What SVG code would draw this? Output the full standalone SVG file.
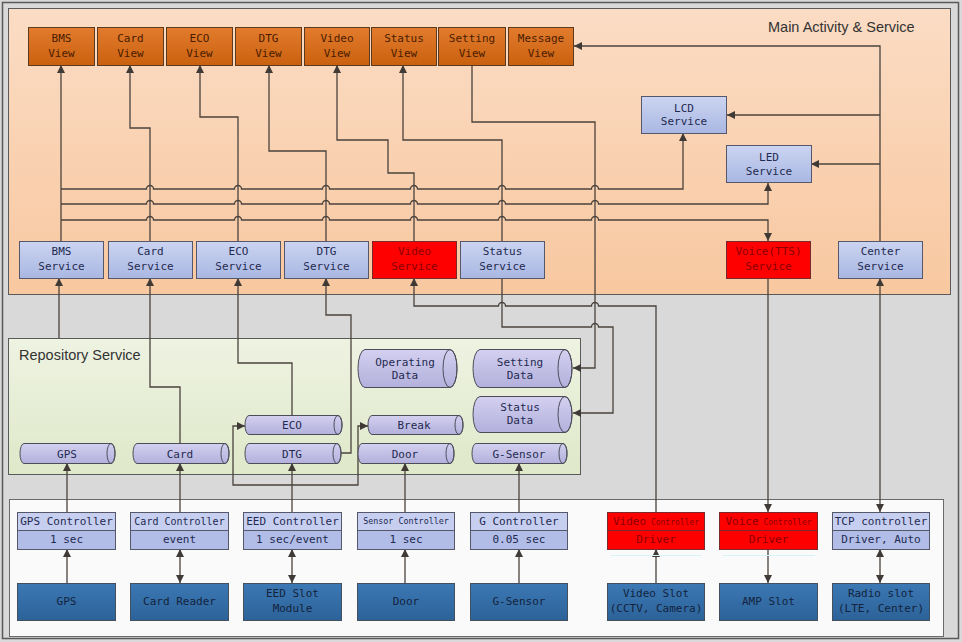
<svg xmlns="http://www.w3.org/2000/svg" width="962" height="642" viewBox="0 0 962 642">
<defs>
<linearGradient id="gOr" x1="0" y1="0" x2="0" y2="1"><stop offset="0" stop-color="#fbdcc4"/><stop offset="1" stop-color="#f8c8a0"/></linearGradient>
<linearGradient id="gRep" x1="0" y1="0" x2="0" y2="1"><stop offset="0" stop-color="#eef3e2"/><stop offset="1" stop-color="#dfe8c9"/></linearGradient>
<linearGradient id="gView" x1="0" y1="0" x2="0" y2="1"><stop offset="0" stop-color="#e27b2d"/><stop offset="1" stop-color="#c9610f"/></linearGradient>
<linearGradient id="gSvc" x1="0" y1="0" x2="0" y2="1"><stop offset="0" stop-color="#cbd4f1"/><stop offset="1" stop-color="#a9b7e2"/></linearGradient>
<linearGradient id="gCyl" x1="0" y1="0" x2="0" y2="1"><stop offset="0" stop-color="#d3d0f0"/><stop offset="1" stop-color="#b3b0dc"/></linearGradient>
<linearGradient id="gDev" x1="0" y1="0" x2="0" y2="1"><stop offset="0" stop-color="#3c78b4"/><stop offset="1" stop-color="#2c6298"/></linearGradient>
<marker id="ar" viewBox="0 0 10 10" refX="10" refY="5" markerWidth="8" markerHeight="8" markerUnits="userSpaceOnUse" orient="auto-start-reverse"><path d="M0,0 L10,5 L0,10 z" fill="#3f3a36"/></marker>
<style>
.t{font-family:"DejaVu Sans Mono","Liberation Mono",monospace;font-size:11px;text-anchor:middle;fill:#1f2a50}
.tv{fill:#4a1c00}
.tr{fill:#8a0000}
.td{fill:#13233d}
.title{font-family:"Liberation Sans",Arial,sans-serif;font-size:14.5px;fill:#333}
.view{fill:url(#gView);stroke:#5b3a20;stroke-width:1}
.svc{fill:url(#gSvc);stroke:#55586a;stroke-width:1}
.red{fill:#ff0000;stroke:#7a2a2a;stroke-width:1}
.cyl{fill:url(#gCyl);stroke:#4d4d5a;stroke-width:1}
.cap{fill:none;stroke:#4d4d5a;stroke-width:1}
.dev{fill:url(#gDev);stroke:#44505e;stroke-width:1}
.ch{fill:#c7cff1;stroke:#55586a;stroke-width:1}
.cb{fill:#b1bde7;stroke:#55586a;stroke-width:1}
.c{fill:none;stroke:#4b433d;stroke-width:1.3}
</style>
</defs>

<!-- background & panels -->
<rect x="0" y="0" width="962" height="642" fill="#d9d9d9"/>
<rect x="2.5" y="2.5" width="956" height="636" fill="none" stroke="#5a5a5a" stroke-width="1.5"/>
<g id="panel-main">
<rect x="8.5" y="8.5" width="942" height="286" fill="url(#gOr)" stroke="#5a5a5a" stroke-width="1"/>
<text class="title" x="768" y="32">Main Activity &amp; Service</text>
</g>
<g id="panel-repo">
<rect x="8.5" y="338.5" width="572" height="136" fill="url(#gRep)" stroke="#5a5a5a" stroke-width="1"/>
<text class="title" x="19" y="360">Repository Service</text>
</g>
<g id="panel-hw">
<rect x="9.5" y="499.5" width="934" height="137" fill="#fafafa" stroke="#6a6a6a" stroke-width="1"/>
</g>

<!-- connectors -->
<g id="connectors">
<path class="c" marker-end="url(#ar)" d="M61,241 L61,65"/>
<path class="c" marker-end="url(#ar)" d="M61,189 L146.5,189 A3.5,3.5 0 0 1 153.5,189 L234.5,189 A3.5,3.5 0 0 1 241.5,189 L322.5,189 A3.5,3.5 0 0 1 329.5,189 L410.5,189 A3.5,3.5 0 0 1 417.5,189 L498.5,189 A3.5,3.5 0 0 1 505.5,189 L591.5,189 A3.5,3.5 0 0 1 598.5,189 L683,189 L683,133"/>
<path class="c" marker-end="url(#ar)" d="M61,204 L146.5,204 A3.5,3.5 0 0 1 153.5,204 L234.5,204 A3.5,3.5 0 0 1 241.5,204 L322.5,204 A3.5,3.5 0 0 1 329.5,204 L410.5,204 A3.5,3.5 0 0 1 417.5,204 L498.5,204 A3.5,3.5 0 0 1 505.5,204 L591.5,204 A3.5,3.5 0 0 1 598.5,204 L768,204 L768,183"/>
<path class="c" marker-end="url(#ar)" d="M61,220 L146.5,220 A3.5,3.5 0 0 1 153.5,220 L234.5,220 A3.5,3.5 0 0 1 241.5,220 L322.5,220 A3.5,3.5 0 0 1 329.5,220 L410.5,220 A3.5,3.5 0 0 1 417.5,220 L498.5,220 A3.5,3.5 0 0 1 505.5,220 L591.5,220 A3.5,3.5 0 0 1 598.5,220 L768,220 L768,241"/>
<path class="c" marker-end="url(#ar)" d="M150,241 L150,128 L130,128 L130,65"/>
<path class="c" marker-end="url(#ar)" d="M238,241 L238,117 L200,117 L200,65"/>
<path class="c" marker-end="url(#ar)" d="M326,241 L326,151 L269,151 L269,65"/>
<path class="c" marker-end="url(#ar)" d="M414,241 L414,173 L388,173 L388,140 L337,140 L337,65"/>
<path class="c" marker-end="url(#ar)" d="M502,241 L502,140 L403,140 L403,65"/>
<path class="c" marker-end="url(#ar)" d="M472,65 L472,122 L595,122 L595,368 L573,368"/>
<path class="c" marker-end="url(#ar)" d="M880,241 L880,46 L574,46"/>
<path class="c" marker-end="url(#ar)" d="M880,115 L727,115"/>
<path class="c" marker-end="url(#ar)" d="M880,164 L811,164"/>
<path class="c" marker-start="url(#ar)" marker-end="url(#ar)" d="M880,278 L880,512"/>
<path class="c" marker-end="url(#ar)" d="M768,278 L768,512"/>
<path class="c" marker-start="url(#ar)" d="M414,278 L414,306 L498.5,306 A3.5,3.5 0 0 1 505.5,306 L591.5,306 A3.5,3.5 0 0 1 598.5,306 L656,306 L656,512"/>
<path class="c" marker-end="url(#ar)" d="M502,278 L502,327 L591.5,327 A3.5,3.5 0 0 1 598.5,327 L613,327 L613,413 L573,413"/>
<path class="c" marker-end="url(#ar)" d="M59,338 L59,278"/>
<path class="c" marker-end="url(#ar)" d="M180,443 L180,387 L150,387 L150,278"/>
<path class="c" marker-end="url(#ar)" d="M292,415 L292,363 L238,363 L238,278"/>
<path class="c" marker-end="url(#ar)" d="M341,453 L351,453 L351,315 L326,315 L326,278"/>
<path class="c" marker-end="url(#ar)" d="M292,512 L292,463"/>
<path class="c" marker-end="url(#ar)" d="M292,485 L233,485 L233,426 L245,426"/>
<path class="c" marker-end="url(#ar)" d="M292,485 L358,485 L358,426 L368,426"/>
<path class="c" marker-end="url(#ar)" d="M67,512 L67,463"/>
<path class="c" marker-end="url(#ar)" d="M180,512 L180,463"/>
<path class="c" marker-end="url(#ar)" d="M405,512 L405,463"/>
<path class="c" marker-end="url(#ar)" d="M519,512 L519,463"/>
<path class="c" marker-end="url(#ar)" d="M67,583 L67,549"/>
<path class="c" marker-start="url(#ar)" marker-end="url(#ar)" d="M180,583 L180,549"/>
<path class="c" marker-start="url(#ar)" marker-end="url(#ar)" d="M292,583 L292,549"/>
<path class="c" marker-end="url(#ar)" d="M405,583 L405,549"/>
<path class="c" marker-end="url(#ar)" d="M519,583 L519,549"/>
<path class="c" marker-end="url(#ar)" d="M656,583 L656,549"/>
<path class="c" marker-end="url(#ar)" d="M768,549 L768,583"/>
<path class="c" marker-start="url(#ar)" marker-end="url(#ar)" d="M880,583 L880,549"/>
</g>

<!-- Views -->
<g id="bms-view"><rect class="view" x="28.5" y="27.5" width="66" height="38"/><text class="t tv" x="61.5" y="42">BMS</text><text class="t tv" x="61.5" y="57">View</text></g>
<g id="card-view"><rect class="view" x="97.5" y="27.5" width="66" height="38"/><text class="t tv" x="130.5" y="42">Card</text><text class="t tv" x="130.5" y="57">View</text></g>
<g id="eco-view"><rect class="view" x="166.5" y="27.5" width="66" height="38"/><text class="t tv" x="199.5" y="42">ECO</text><text class="t tv" x="199.5" y="57">View</text></g>
<g id="dtg-view"><rect class="view" x="235.5" y="27.5" width="66" height="38"/><text class="t tv" x="268.5" y="42">DTG</text><text class="t tv" x="268.5" y="57">View</text></g>
<g id="video-view"><rect class="view" x="304.5" y="27.5" width="65" height="38"/><text class="t tv" x="337" y="42">Video</text><text class="t tv" x="337" y="57">View</text></g>
<g id="status-view"><rect class="view" x="371.5" y="27.5" width="65" height="38"/><text class="t tv" x="404" y="42">Status</text><text class="t tv" x="404" y="57">View</text></g>
<g id="setting-view"><rect class="view" x="438.5" y="27.5" width="67" height="38"/><text class="t tv" x="472" y="42">Setting</text><text class="t tv" x="472" y="57">View</text></g>
<g id="message-view"><rect class="view" x="508.5" y="27.5" width="65" height="38"/><text class="t tv" x="541" y="42">Message</text><text class="t tv" x="541" y="57">View</text></g>

<!-- LCD / LED -->
<g id="lcd-service"><rect class="svc" x="641.5" y="96.5" width="85" height="37"/><text class="t" x="684" y="112">LCD</text><text class="t" x="684" y="125">Service</text></g>
<g id="led-service"><rect class="svc" x="726.5" y="145.5" width="85" height="37"/><text class="t" x="769" y="161">LED</text><text class="t" x="769" y="175">Service</text></g>

<!-- Services -->
<g id="bms-service"><rect class="svc" x="19.5" y="241.5" width="84" height="37"/><text class="t" x="61.5" y="255">BMS</text><text class="t" x="61.5" y="270">Service</text></g>
<g id="card-service"><rect class="svc" x="108.5" y="241.5" width="84" height="37"/><text class="t" x="150.5" y="255">Card</text><text class="t" x="150.5" y="270">Service</text></g>
<g id="eco-service"><rect class="svc" x="196.5" y="241.5" width="84" height="37"/><text class="t" x="238.5" y="255">ECO</text><text class="t" x="238.5" y="270">Service</text></g>
<g id="dtg-service"><rect class="svc" x="284.5" y="241.5" width="84" height="37"/><text class="t" x="326.5" y="255">DTG</text><text class="t" x="326.5" y="270">Service</text></g>
<g id="video-service"><rect class="red" x="372.5" y="241.5" width="84" height="37"/><text class="t tr" x="414.5" y="255">Video</text><text class="t tr" x="414.5" y="270">Service</text></g>
<g id="status-service"><rect class="svc" x="460.5" y="241.5" width="84" height="37"/><text class="t" x="502.5" y="255">Status</text><text class="t" x="502.5" y="270">Service</text></g>
<g id="voice-service"><rect class="red" x="726.5" y="241.5" width="84" height="37"/><text class="t tr" x="768.5" y="255">Voice(TTS)</text><text class="t tr" x="768.5" y="270">Service</text></g>
<g id="center-service"><rect class="svc" x="838.5" y="241.5" width="84" height="37"/><text class="t" x="880.5" y="255">Center</text><text class="t" x="880.5" y="270">Service</text></g>

<!-- Repository cylinders -->
<g id="operating-data"><path class="cyl" d="M365,349.5 L450,349.5 A7,19 0 0 1 450,387.5 L365,387.5 A7,19 0 0 1 365,349.5 Z"/><ellipse class="cap" cx="450" cy="368.5" rx="7" ry="19"/><text class="t" x="405" y="366">Operating</text><text class="t" x="405" y="379">Data</text></g>
<g id="setting-data"><path class="cyl" d="M480,349.5 L565,349.5 A7,19 0 0 1 565,387.5 L480,387.5 A7,19 0 0 1 480,349.5 Z"/><ellipse class="cap" cx="565" cy="368.5" rx="7" ry="19"/><text class="t" x="520" y="366">Setting</text><text class="t" x="520" y="379">Data</text></g>
<g id="status-data"><path class="cyl" d="M480,396.5 L565,396.5 A7,18 0 0 1 565,432.5 L480,432.5 A7,18 0 0 1 480,396.5 Z"/><ellipse class="cap" cx="565" cy="414.5" rx="7" ry="18"/><text class="t" x="520" y="411">Status</text><text class="t" x="520" y="424">Data</text></g>
<g id="eco-data"><path class="cyl" d="M249,415.5 L338,415.5 A4,9.5 0 0 1 338,434.5 L249,434.5 A4,9.5 0 0 1 249,415.5 Z"/><ellipse class="cap" cx="338" cy="425" rx="4" ry="9.5"/><text class="t" x="292" y="429">ECO</text></g>
<g id="break-data"><path class="cyl" d="M372,415.5 L459,415.5 A4,9.5 0 0 1 459,434.5 L372,434.5 A4,9.5 0 0 1 372,415.5 Z"/><ellipse class="cap" cx="459" cy="425" rx="4" ry="9.5"/><text class="t" x="414" y="429">Break</text></g>
<g id="gps-data"><path class="cyl" d="M24,443.5 L111,443.5 A4,10 0 0 1 111,463.5 L24,463.5 A4,10 0 0 1 24,443.5 Z"/><ellipse class="cap" cx="111" cy="453.5" rx="4" ry="10"/><text class="t" x="67" y="457.5">GPS</text></g>
<g id="card-data"><path class="cyl" d="M137,443.5 L225,443.5 A4,10 0 0 1 225,463.5 L137,463.5 A4,10 0 0 1 137,443.5 Z"/><ellipse class="cap" cx="225" cy="453.5" rx="4" ry="10"/><text class="t" x="180" y="457.5">Card</text></g>
<g id="dtg-data"><path class="cyl" d="M249,443.5 L337,443.5 A4,10 0 0 1 337,463.5 L249,463.5 A4,10 0 0 1 249,443.5 Z"/><ellipse class="cap" cx="337" cy="453.5" rx="4" ry="10"/><text class="t" x="292" y="457.5">DTG</text></g>
<g id="door-data"><path class="cyl" d="M362,443.5 L450,443.5 A4,10 0 0 1 450,463.5 L362,463.5 A4,10 0 0 1 362,443.5 Z"/><ellipse class="cap" cx="450" cy="453.5" rx="4" ry="10"/><text class="t" x="405" y="457.5">Door</text></g>
<g id="gsensor-data"><path class="cyl" d="M476,443.5 L563,443.5 A4,10 0 0 1 563,463.5 L476,463.5 A4,10 0 0 1 476,443.5 Z"/><ellipse class="cap" cx="563" cy="453.5" rx="4" ry="10"/><text class="t" x="519" y="457.5">G-Sensor</text></g>

<!-- Controllers -->
<g id="gps-controller"><rect class="ch" x="17.5" y="512.5" width="98" height="18"/><rect class="cb" x="17.5" y="530.5" width="98" height="19"/><text class="t" x="66.5" y="524.5">GPS Controller</text><text class="t" x="66.5" y="543">1 sec</text></g>
<g id="card-controller"><rect class="ch" x="130.5" y="512.5" width="98" height="18"/><rect class="cb" x="130.5" y="530.5" width="98" height="19"/><text class="t" x="179.5" y="524.5" style="font-size:10px">Card Controller</text><text class="t" x="179.5" y="543">event</text></g>
<g id="eed-controller"><rect class="ch" x="243.5" y="512.5" width="98" height="18"/><rect class="cb" x="243.5" y="530.5" width="98" height="19"/><text class="t" x="292.5" y="524.5">EED Controller</text><text class="t" x="292.5" y="543">1 sec/event</text></g>
<g id="sensor-controller"><rect class="ch" x="357.5" y="512.5" width="97" height="18"/><rect class="cb" x="357.5" y="530.5" width="97" height="19"/><text class="t" x="406" y="524" style="font-size:8.4px">Sensor Controller</text><text class="t" x="406" y="543">1 sec</text></g>
<g id="g-controller"><rect class="ch" x="470.5" y="512.5" width="97" height="18"/><rect class="cb" x="470.5" y="530.5" width="97" height="19"/><text class="t" x="519" y="524.5">G Controller</text><text class="t" x="519" y="543">0.05 sec</text></g>
<g id="video-controller"><rect class="red" x="607.5" y="512.5" width="97" height="18"/><rect class="red" x="607.5" y="530.5" width="97" height="19"/><line x1="610" y1="555.5" x2="702" y2="555.5" stroke="#d6f4f4" stroke-width="1"/><text class="t tr" x="656" y="524.5"><tspan>Video</tspan><tspan style="font-size:8px"> Controller</tspan></text><text class="t tr" x="656" y="543">Driver</text></g>
<g id="voice-controller"><rect class="red" x="719.5" y="512.5" width="98" height="18"/><rect class="red" x="719.5" y="530.5" width="98" height="19"/><line x1="722" y1="555.5" x2="815" y2="555.5" stroke="#d6f4f4" stroke-width="1"/><text class="t tr" x="768.5" y="524.5"><tspan>Voice</tspan><tspan style="font-size:8px"> Controller</tspan></text><text class="t tr" x="768.5" y="543">Driver</text></g>
<g id="tcp-controller"><rect class="ch" x="832.5" y="512.5" width="97" height="18"/><rect class="cb" x="832.5" y="530.5" width="97" height="19"/><text class="t" x="881" y="524.5">TCP controller</text><text class="t" x="881" y="543">Driver, Auto</text></g>

<!-- Devices -->
<g id="gps-device"><rect class="dev" x="17.5" y="583.5" width="98" height="37"/><text class="t td" x="66.5" y="605">GPS</text></g>
<g id="card-reader"><rect class="dev" x="130.5" y="583.5" width="98" height="37"/><text class="t td" x="179.5" y="605">Card Reader</text></g>
<g id="eed-slot"><rect class="dev" x="243.5" y="583.5" width="98" height="37"/><text class="t td" x="292.5" y="597">EED Slot</text><text class="t td" x="292.5" y="612">Module</text></g>
<g id="door-device"><rect class="dev" x="357.5" y="583.5" width="97" height="37"/><text class="t td" x="406" y="605">Door</text></g>
<g id="gsensor-device"><rect class="dev" x="470.5" y="583.5" width="97" height="37"/><text class="t td" x="519" y="605">G-Sensor</text></g>
<g id="video-slot"><rect class="dev" x="607.5" y="583.5" width="97" height="37"/><text class="t td" x="656" y="597">Video Slot</text><text class="t td" x="656" y="612">(CCTV, Camera)</text></g>
<g id="amp-slot"><rect class="dev" x="719.5" y="583.5" width="98" height="37"/><text class="t td" x="768.5" y="605">AMP Slot</text></g>
<g id="radio-slot"><rect class="dev" x="832.5" y="583.5" width="97" height="37"/><text class="t td" x="881" y="597">Radio slot</text><text class="t td" x="881" y="612">(LTE, Center)</text></g>
</svg>
